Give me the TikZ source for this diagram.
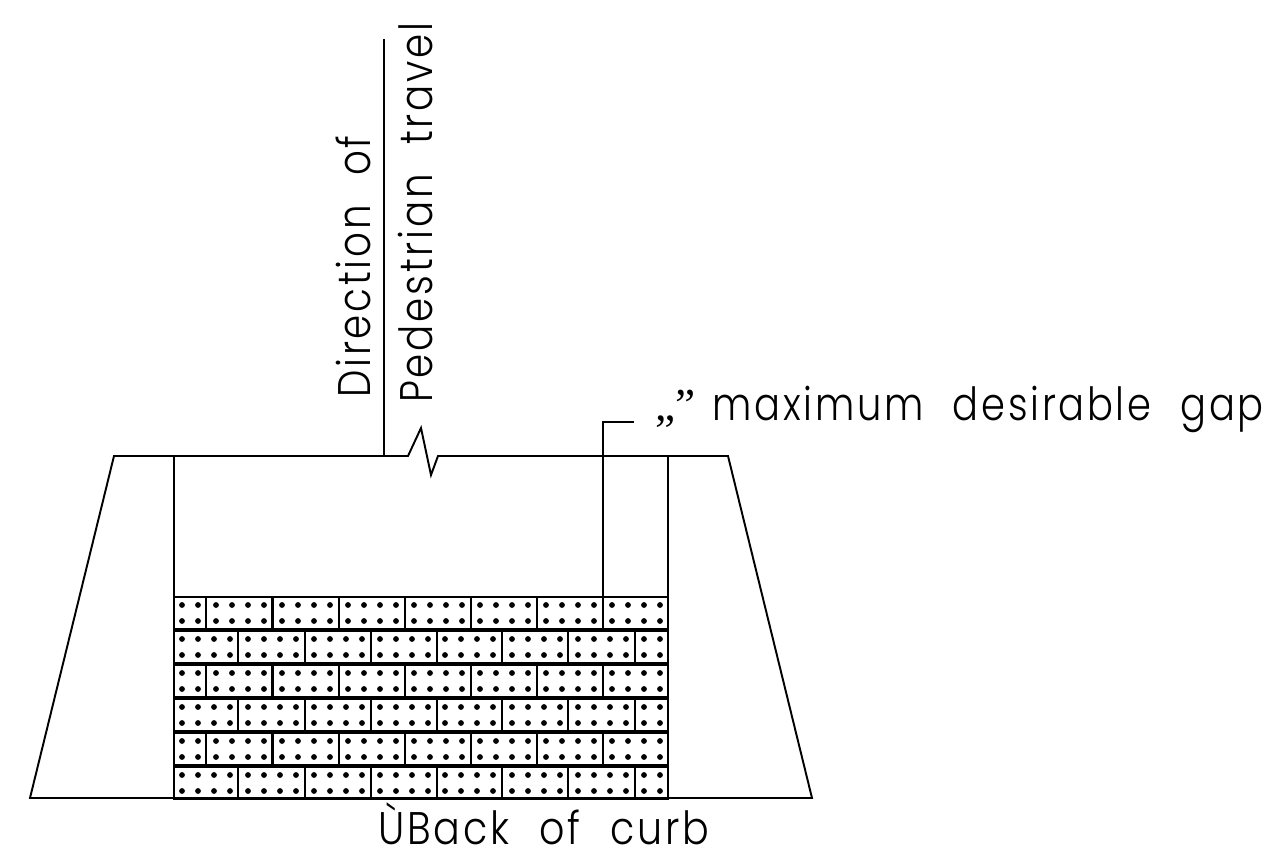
\documentclass[tikz,border=0pt]{standalone}
\usepackage{fontspec}
\usepackage{tikz}
\newfontfamily\cadfont[FakeStretch=0.85,LetterSpace=6,WordSpace=2.2]{Poppins Light}
\newfontfamily\quotefont{Liberation Serif}
\tikzstyle{outline} = [draw=black, line width=1.1pt, line join=miter]
\tikzstyle{leader} = [draw=black, line width=0.6pt]
\tikzstyle{brick} = [draw=black, line width=1.3pt]
\tikzstyle{stud} = [circle, fill=black, inner sep=0pt, minimum size=3.3pt]
\tikzstyle{caption} = [inner sep=0pt, font=\cadfont\fontsize{26}{26}\selectfont]
\begin{document}
\begin{tikzpicture}[x=0.02cm, y=-0.02cm]
        \useasboundingbox (0,0) rectangle (1265,852);

        % road outline with break
        \coordinate (footL) at (30,798);
        \coordinate (topL) at (114,456);
        \coordinate (topR) at (728,456);
        \coordinate (footR) at (812,798);
        \draw [outline] (footL) -- (topL) -- (408,456) -- (421,428) -- (431,475) -- (438,456) -- (topR) -- (footR) -- cycle;

        % walls
        \draw [outline] (174,456) -- (174,798);
        \draw [outline] (668,456) -- (668,798);

        % brick rows, odd rows start with the short brick
        \foreach \rowtop in {597,665,733} {
          \draw [brick] (174,\rowtop) rectangle (668,\rowtop+32);
          \foreach \joint in {206,272.5,338.7,405,471,537,603} {
            \draw [brick] (\joint,\rowtop) -- (\joint,\rowtop+32);
          }
          \foreach \dotx in {182,198,216,232,248,264,282,298,314,330,348,364,380,396,414,430,446,462,480,496,512,528,546,562,578,594,612,628,644,660} {
            \node [stud] at (\dotx,\rowtop+8) {};
            \node [stud] at (\dotx,\rowtop+24) {};
          }
        }
        \foreach \rowtop in {631,699,767} {
          \draw [brick] (174,\rowtop) rectangle (668,\rowtop+32);
          \foreach \joint in {238,305,371,437,502,568,635} {
            \draw [brick] (\joint,\rowtop) -- (\joint,\rowtop+32);
          }
          \foreach \dotx in {182,198,214,230,248,264,280,296,314,330,346,362,380,396,412,428,445,461,477,493,512,528,544,560,578,594,610,626,644,660} {
            \node [stud] at (\dotx,\rowtop+8) {};
            \node [stud] at (\dotx,\rowtop+24) {};
          }
        }

        % labels
        \node (direction) [caption, rotate=90, anchor=base west] at (370,398) {Direction of};
        \node (pedestrian) [caption, rotate=90, anchor=base west] at (432,403) {Pedestrian travel};
        \node (gap) [caption, anchor=base west, xscale=0.99] at (655,420) {{\quotefont „”}\hspace{10pt}maximum desirable gap};
        \node (curb) [caption, anchor=base west, xscale=1.02] at (378,844) {ÙBack of curb};

        % leaders
        \coordinate (travelEnd) at (384,39);
        \coordinate (gapFoot) at (603,597);
        \coordinate (gapBend) at (603,422);
        \coordinate (gapEnd) at (634,422);
        \draw [leader] (travelEnd) -- (384,456);
        \draw [leader] (gapFoot) -- (gapBend) -- (gapEnd);

\end{tikzpicture}
\end{document}
